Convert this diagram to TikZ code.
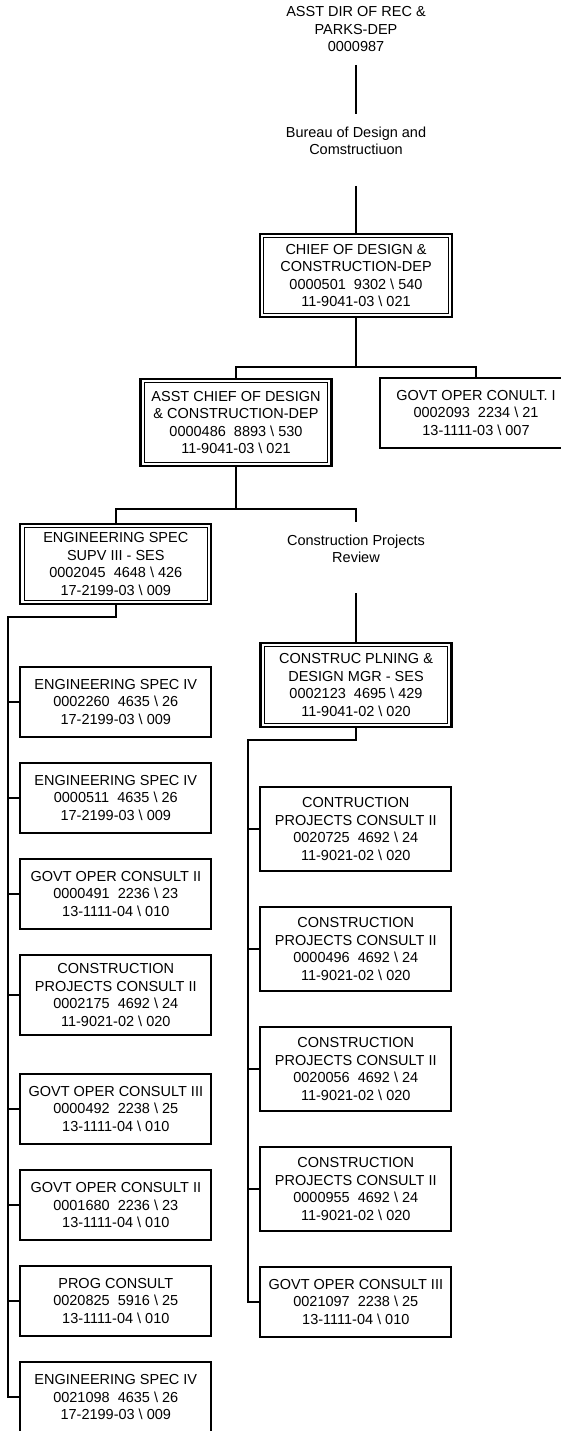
\documentclass[tikz,border=0pt]{standalone}
\usepackage{fontspec}
\setmainfont{Liberation Sans}
\newcommand\bs{\textbackslash}
\begin{document}
\begin{tikzpicture}[x=1pt,y=-1pt,
  every node/.style={font=\fontsize{14.5}{17.5}\selectfont, align=center, inner sep=0pt},
  post/.style={draw, line width=2pt, minimum width=191pt, minimum height=70pt},
  dpost/.style={post, line width=2.2pt,
    path picture={\draw[line width=1pt]
      ([shift={(3.8pt,-3.8pt)}]path picture bounding box.north west) rectangle
      ([shift={(-3.8pt,3.8pt)}]path picture bounding box.south east);}},
  tall/.style={minimum height=83.7pt},
  link/.style={draw, line width=2pt},
]
\path[use as bounding box, fill=white] (0,0) rectangle (561,1431);

% top of the hierarchy
\node (top) at (356,29.5) {ASST DIR OF REC \&\\PARKS-DEP\\0000987};
\node (bureau) at (356,140.7) {Bureau of Design and\\Comstructiuon};
\node[dpost, minimum width=192pt, minimum height=83pt] (chief) at (356,275.5)
  {CHIEF OF DESIGN \&\\CONSTRUCTION-DEP\\0000501~~9302 \bs{} 540\\11-9041-03 \bs{} 021};
\node[dpost, minimum height=87pt] (asst) at (236,422.5)
  {ASST CHIEF OF DESIGN\\\& CONSTRUCTION-DEP\\0000486~~8893 \bs{} 530\\11-9041-03 \bs{} 021};
\node[post, minimum width=192pt] (govt) at (476,413)
  {GOVT OPER CONULT. I\\0002093~~2234 \bs{} 21\\13-1111-03 \bs{} 007};
\node[dpost, minimum height=80.3pt] (engsupv) at (115.8,563.8)
  {ENGINEERING SPEC\\SUPV III - SES\\0002045~~4648 \bs{} 426\\17-2199-03 \bs{} 009};
\node (review) at (356,549) {Construction Projects\\Review};
\node[dpost, minimum height=84pt] (construc) at (356,685)
  {CONSTRUC PLNING \&\\DESIGN MGR - SES\\0002123~~4695 \bs{} 429\\11-9041-02 \bs{} 020};

% left column
\node[post] (l1) at (115.8,701.8) {ENGINEERING SPEC IV\\0002260~~4635 \bs{} 26\\17-2199-03 \bs{} 009};
\node[post] (l2) at (115.8,797.8) {ENGINEERING SPEC IV\\0000511~~4635 \bs{} 26\\17-2199-03 \bs{} 009};
\node[post] (l3) at (115.8,893.8) {GOVT OPER CONSULT II\\0000491~~2236 \bs{} 23\\13-1111-04 \bs{} 010};
\node[post, minimum height=80pt] (l4) at (115.8,995)
  {CONSTRUCTION\\PROJECTS CONSULT II\\0002175~~4692 \bs{} 24\\11-9021-02 \bs{} 020};
\node[post] (l5) at (115.8,1108.9) {GOVT OPER CONSULT III\\0000492~~2238 \bs{} 25\\13-1111-04 \bs{} 010};
\node[post] (l6) at (115.8,1205) {GOVT OPER CONSULT II\\0001680~~2236 \bs{} 23\\13-1111-04 \bs{} 010};
\node[post] (l7) at (115.8,1300.9) {PROG CONSULT\\0020825~~5916 \bs{} 25\\13-1111-04 \bs{} 010};
\node[post] (l8) at (115.8,1397) {ENGINEERING SPEC IV\\0021098~~4635 \bs{} 26\\17-2199-03 \bs{} 009};

% right column
\node[post, tall] (r1) at (355.8,828.8)
  {CONTRUCTION\\PROJECTS CONSULT II\\0020725~~4692 \bs{} 24\\11-9021-02 \bs{} 020};
\node[post, tall] (r2) at (355.8,948.8)
  {CONSTRUCTION\\PROJECTS CONSULT II\\0000496~~4692 \bs{} 24\\11-9021-02 \bs{} 020};
\node[post, tall] (r3) at (355.8,1068.8)
  {CONSTRUCTION\\PROJECTS CONSULT II\\0020056~~4692 \bs{} 24\\11-9021-02 \bs{} 020};
\node[post, tall] (r4) at (355.8,1188.8)
  {CONSTRUCTION\\PROJECTS CONSULT II\\0000955~~4692 \bs{} 24\\11-9021-02 \bs{} 020};
\node[post] (r5) at (355.8,1301.7) {GOVT OPER CONSULT III\\0021097~~2238 \bs{} 25\\13-1111-04 \bs{} 010};

% connectors
\draw[link] ([yshift=-35.5pt]top.center) -- ([yshift=26.7pt]bureau.center);
\draw[link] ([yshift=-45.3pt]bureau.center) -- (chief.north);

\coordinate (cbus) at (356,367);
\draw[link] (chief.south) -- (cbus);
\draw[link] (asst.north) |- (cbus) -| (govt.north);

\coordinate (abus) at (236,509);
\draw[link] (asst.south) -- (abus);
\draw[link] (engsupv.north) |- (abus) -| ([yshift=27pt]review.center);
\draw[link] ([yshift=-44pt]review.center) -- (construc.north);

\coordinate (lbus) at (8,617);
\draw[link] (engsupv.south) |- (lbus) |- (l8.west);
\foreach \n in {l1,l2,l3,l4,l5,l6,l7}
  \draw[link] (lbus |- \n.west) -- (\n.west);

\coordinate (rbus) at (248,740);
\draw[link] (construc.south) |- (rbus) |- (r5.west);
\foreach \n in {r1,r2,r3,r4}
  \draw[link] (rbus |- \n.west) -- (\n.west);
\end{tikzpicture}
\end{document}
